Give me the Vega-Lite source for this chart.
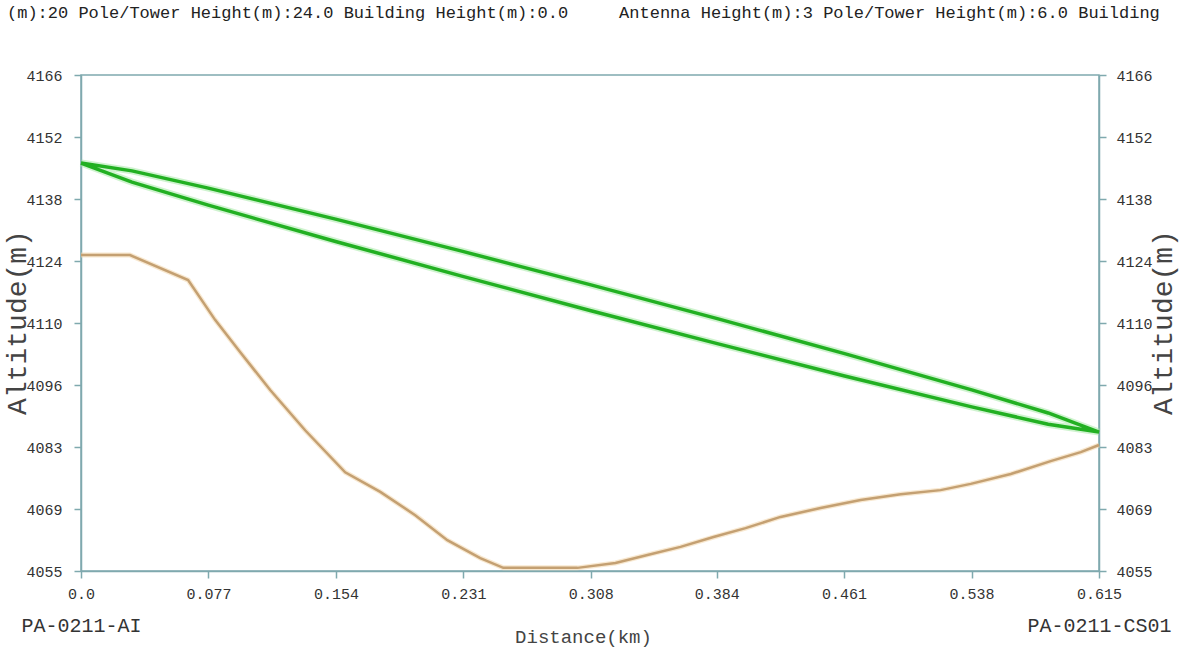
{
  "$schema": "https://vega.github.io/schema/vega-lite/v6.json",
  "width": 1018,
  "height": 496,
  "autosize": {"type": "none"},
  "padding": {"left": 81, "top": 75, "right": 80, "bottom": 79},
  "background": "white",
  "config": {
    "view": {"stroke": "#7fa9ae", "strokeWidth": 1.5},
    "axis": {
      "grid": false,
      "domainColor": "#7fa9ae",
      "domainWidth": 1.5,
      "tickColor": "#7fa9ae",
      "tickWidth": 1.5,
      "tickSize": 7,
      "labelFont": "Liberation Mono",
      "labelFontSize": 15,
      "labelColor": "#333333",
      "labelOverlap": false,
      "labelFlush": false,
      "labelBound": false,
      "titleFont": "Liberation Mono",
      "titleFontWeight": "normal",
      "titleColor": "#444444"
    }
  },
  "title": {
    "text": "(m):20 Pole/Tower Height(m):24.0 Building Height(m):0.0 \u00a0\u00a0\u00a0\u00a0Antenna Height(m):3 Pole/Tower Height(m):6.0 Building",
    "anchor": "start",
    "frame": "group",
    "dx": -74,
    "offset": 46,
    "font": "Liberation Mono",
    "fontSize": 17,
    "fontWeight": "normal",
    "color": "#222222"
  },
  "datasets": {
    "terrain": [
      {"distance": 0.0, "altitude": 4125.7},
      {"distance": 0.0296, "altitude": 4125.7},
      {"distance": 0.0647, "altitude": 4120.1},
      {"distance": 0.081, "altitude": 4111.2},
      {"distance": 0.0961, "altitude": 4104.0},
      {"distance": 0.1143, "altitude": 4095.5},
      {"distance": 0.1354, "altitude": 4086.5},
      {"distance": 0.1596, "altitude": 4077.1},
      {"distance": 0.1808, "altitude": 4072.7},
      {"distance": 0.2019, "altitude": 4067.5},
      {"distance": 0.2213, "altitude": 4061.9},
      {"distance": 0.2412, "altitude": 4057.9},
      {"distance": 0.2551, "altitude": 4055.7},
      {"distance": 0.2999, "altitude": 4055.7},
      {"distance": 0.3229, "altitude": 4056.8},
      {"distance": 0.3422, "altitude": 4058.6},
      {"distance": 0.3622, "altitude": 4060.4},
      {"distance": 0.3821, "altitude": 4062.6},
      {"distance": 0.4015, "altitude": 4064.6},
      {"distance": 0.4226, "altitude": 4067.1},
      {"distance": 0.4468, "altitude": 4069.1},
      {"distance": 0.471, "altitude": 4070.9},
      {"distance": 0.4952, "altitude": 4072.2},
      {"distance": 0.5193, "altitude": 4073.1},
      {"distance": 0.5375, "altitude": 4074.5},
      {"distance": 0.5617, "altitude": 4076.7},
      {"distance": 0.5858, "altitude": 4079.6},
      {"distance": 0.604, "altitude": 4081.6},
      {"distance": 0.615, "altitude": 4083.2}
    ],
    "los": [
      {"seq": 1, "distance": 0.0, "altitude": 4146.3},
      {"seq": 2, "distance": 0.0308, "altitude": 4144.55},
      {"seq": 3, "distance": 0.0769, "altitude": 4140.69},
      {"seq": 4, "distance": 0.1538, "altitude": 4133.75},
      {"seq": 5, "distance": 0.2306, "altitude": 4126.52},
      {"seq": 6, "distance": 0.3075, "altitude": 4119.09},
      {"seq": 7, "distance": 0.3844, "altitude": 4111.47},
      {"seq": 8, "distance": 0.4613, "altitude": 4103.65},
      {"seq": 9, "distance": 0.5381, "altitude": 4095.54},
      {"seq": 10, "distance": 0.5843, "altitude": 4090.37},
      {"seq": 11, "distance": 0.615, "altitude": 4086.1},
      {"seq": 12, "distance": 0.5843, "altitude": 4087.85},
      {"seq": 13, "distance": 0.5381, "altitude": 4091.72},
      {"seq": 14, "distance": 0.4613, "altitude": 4098.65},
      {"seq": 15, "distance": 0.3844, "altitude": 4105.89},
      {"seq": 16, "distance": 0.3075, "altitude": 4113.31},
      {"seq": 17, "distance": 0.2306, "altitude": 4120.94},
      {"seq": 18, "distance": 0.1538, "altitude": 4128.75},
      {"seq": 19, "distance": 0.0769, "altitude": 4136.87},
      {"seq": 20, "distance": 0.0308, "altitude": 4142.03},
      {"seq": 21, "distance": 0.0, "altitude": 4146.3}
    ]
  },
  "layer": [
    {
      "data": {"name": "terrain"},
      "mark": {"type": "line", "color": "#f3d9b0", "strokeWidth": 5, "opacity": 0.6},
      "encoding": {
        "x": {"field": "distance", "type": "quantitative", "scale": {"domain": [0, 0.615], "nice": false, "zero": false},
          "axis": {
            "orient": "bottom",
            "values": [0, 0.077, 0.154, 0.231, 0.308, 0.384, 0.461, 0.538, 0.615],
            "labelExpr": "datum.value == 0 ? '0.0' : format(datum.value, '.3f')",
            "labelPadding": 8,
            "title": "Distance(km)",
            "titleFontSize": 19,
            "titleX": 502,
            "titleY": 65,
            "titleAlign": "center",
            "titleBaseline": "middle"
          }},
        "y": {"field": "altitude", "type": "quantitative", "scale": {"domain": [4055, 4166], "nice": false, "zero": false},
          "axis": {
            "orient": "left",
            "values": [4055, 4068.875, 4082.75, 4096.625, 4110.5, 4124.375, 4138.25, 4152.125, 4166],
            "labelExpr": "['4055','4069','4083','4096','4110','4124','4138','4152','4166'][round((datum.value-4055)/13.875)]",
            "labelPadding": 12,
            "title": "Altitude(m)",
            "titleFontSize": 28,
            "titleAngle": -90,
            "titleX": -64,
            "titleY": 247,
            "titleAlign": "center",
            "titleBaseline": "middle"
          }}
      }
    },
    {
      "data": {"name": "terrain"},
      "mark": {"type": "line", "color": "#c4a072", "strokeWidth": 2.5},
      "encoding": {
        "x": {"field": "distance", "type": "quantitative", "axis": null},
        "y": {"field": "altitude", "type": "quantitative", "axis": null}
      }
    },
    {
      "data": {"name": "los"},
      "mark": {"type": "line", "color": "#9fe89f", "strokeWidth": 7, "opacity": 0.5},
      "encoding": {
        "x": {"field": "distance", "type": "quantitative",
          "axis": {
            "orient": "bottom",
            "values": [0, 0.615],
            "labelExpr": "datum.value < 0.3 ? 'PA-0211-AI' : 'PA-0211-CS01'",
            "ticks": false,
            "domain": false,
            "labelPadding": 44,
            "labelFontSize": 20,
            "title": null
          }},
        "y": {"field": "altitude", "type": "quantitative",
          "axis": {
            "orient": "right",
            "values": [4055, 4068.875, 4082.75, 4096.625, 4110.5, 4124.375, 4138.25, 4152.125, 4166],
            "labelExpr": "['4055','4069','4083','4096','4110','4124','4138','4152','4166'][round((datum.value-4055)/13.875)]",
            "labelPadding": 10,
            "title": "Altitude(m)",
            "titleFontSize": 28,
            "titleAngle": -90,
            "titleX": 64,
            "titleY": 247,
            "titleAlign": "center",
            "titleBaseline": "middle"
          }},
        "order": {"field": "seq", "type": "quantitative"}
      }
    },
    {
      "data": {"name": "los"},
      "mark": {"type": "line", "color": "#22b022", "strokeWidth": 3.5},
      "encoding": {
        "x": {"field": "distance", "type": "quantitative", "axis": null},
        "y": {"field": "altitude", "type": "quantitative", "axis": null},
        "order": {"field": "seq", "type": "quantitative"}
      }
    }
  ],
  "resolve": {"axis": {"x": "independent", "y": "independent"}}
}
